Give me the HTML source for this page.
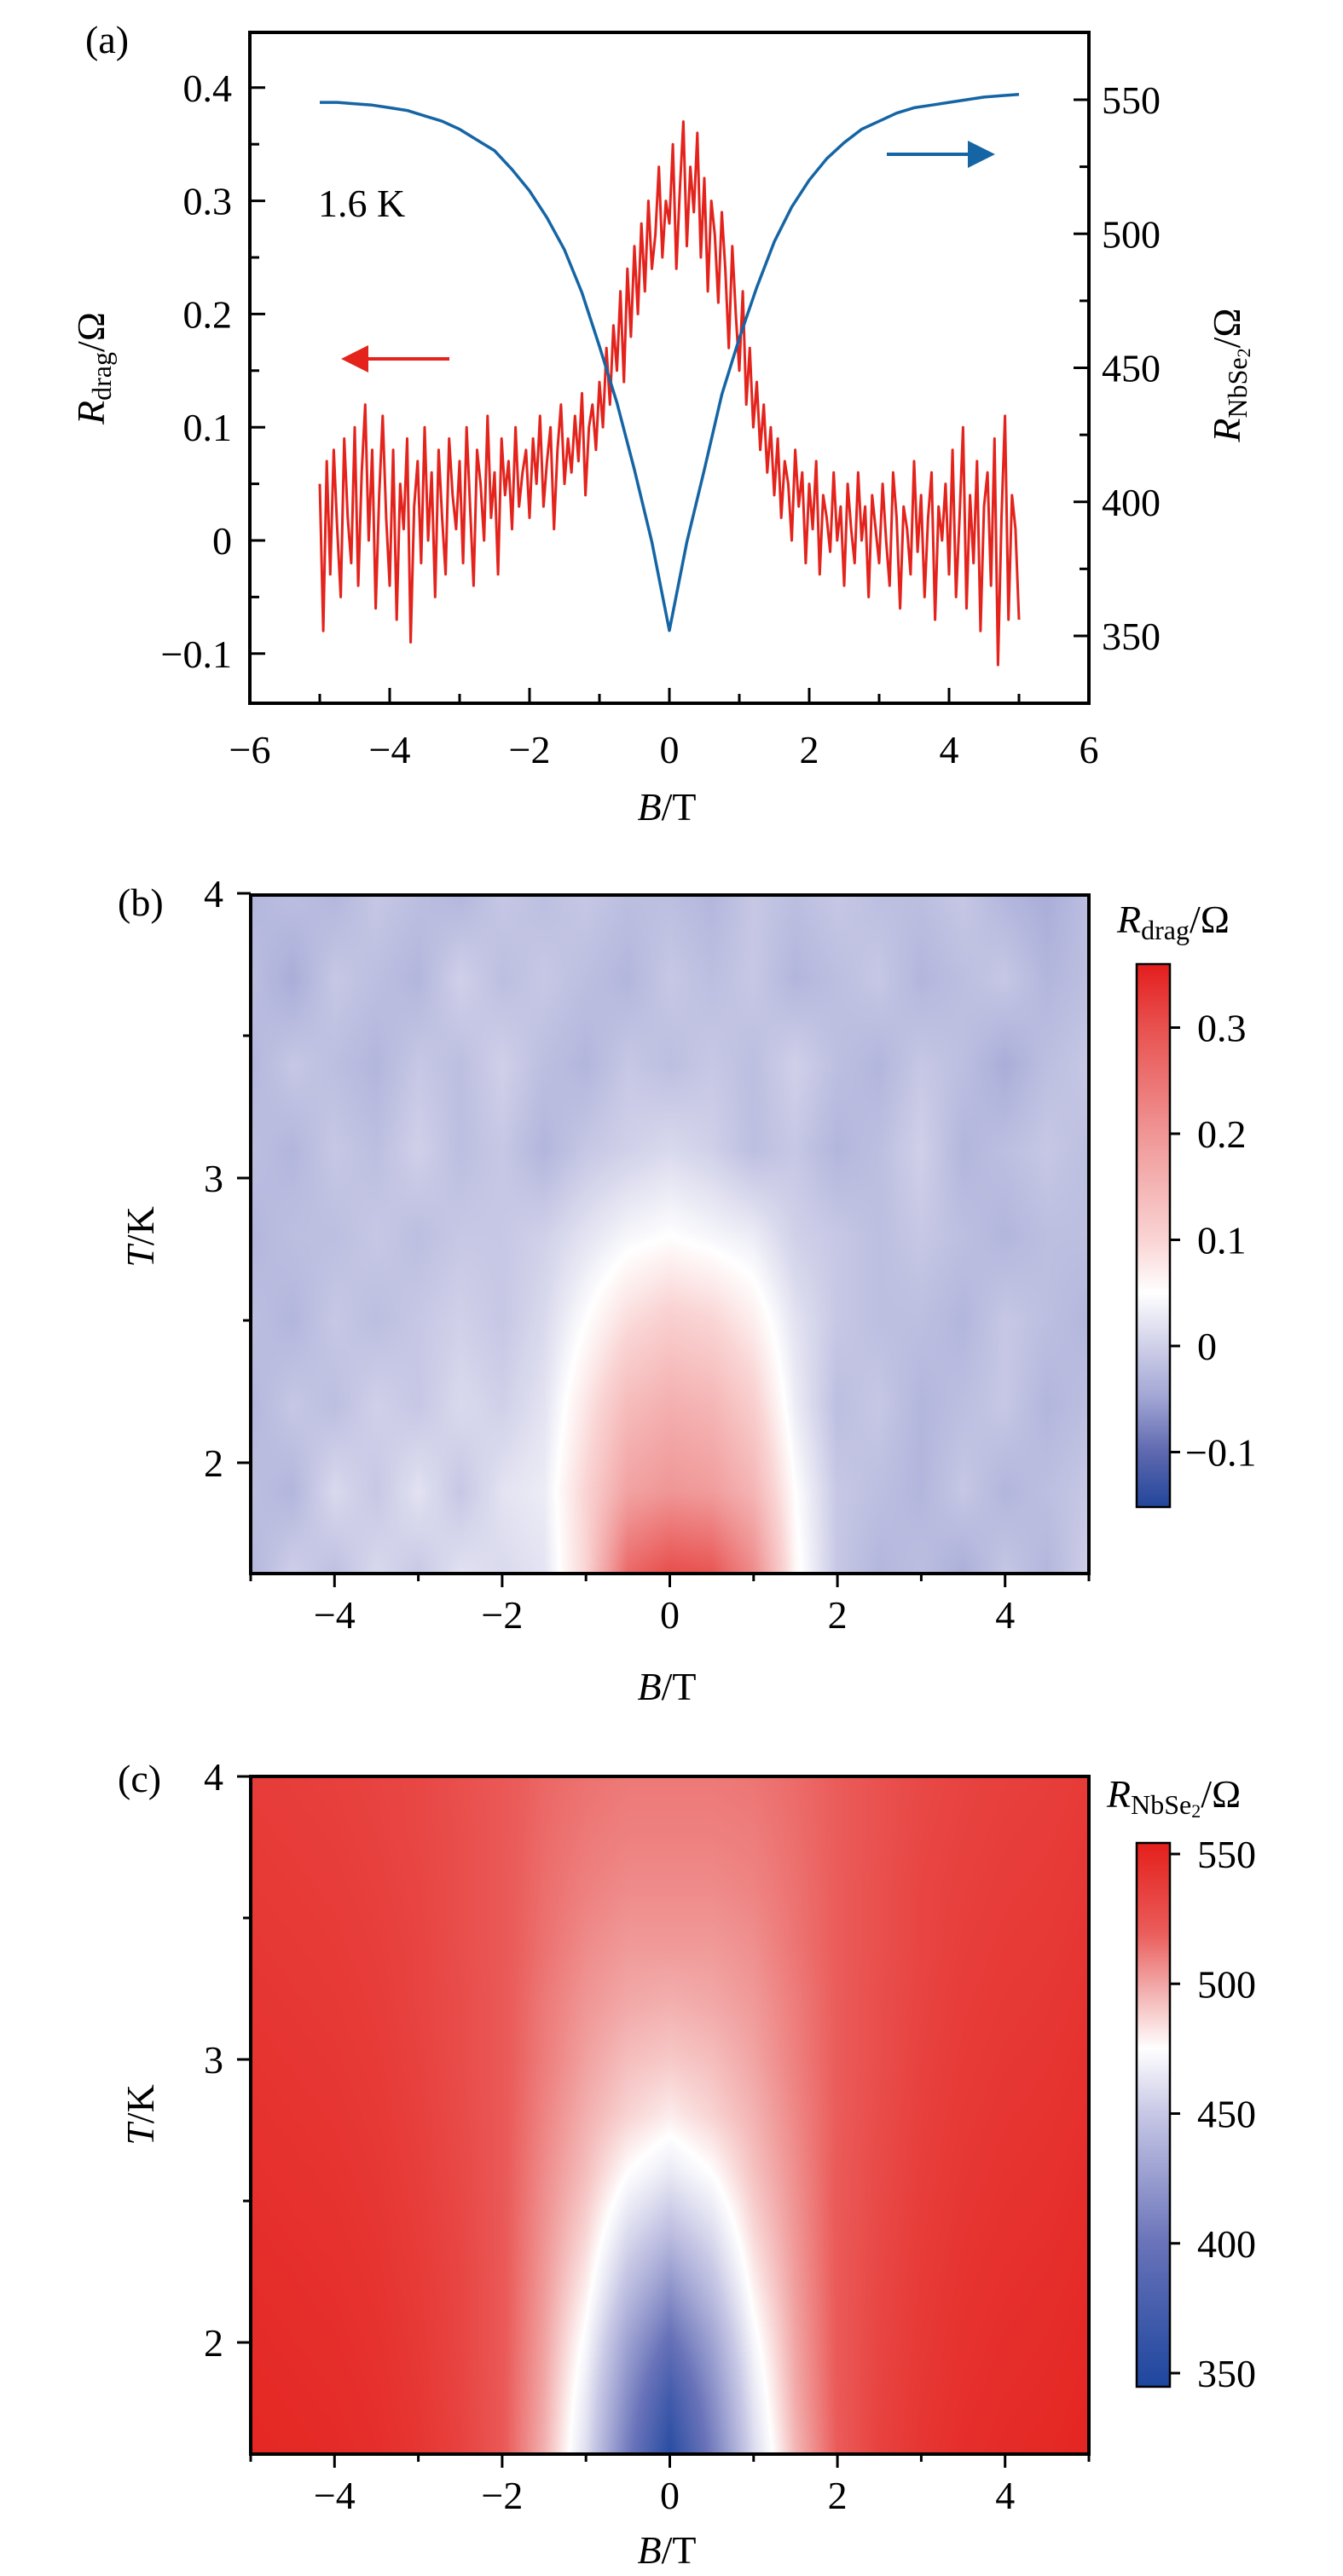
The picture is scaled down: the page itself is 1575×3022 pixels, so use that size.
<!DOCTYPE html>
<html><head><meta charset="utf-8">
<style>
html,body{margin:0;padding:0;background:#fff;}
#root{position:relative;width:1575px;height:3022px;overflow:hidden;background:#fff;}
canvas{position:absolute;}
svg{position:absolute;left:0;top:0;}
text{font-family:"Liberation Serif",serif;fill:#000;}
</style></head>
<body>
<div id="root">
<canvas id="hb" width="983" height="796" style="left:294px;top:1050px"></canvas>
<canvas id="cbb" width="39" height="637" style="left:1333px;top:1131px"></canvas>
<canvas id="hc" width="983" height="795" style="left:294px;top:2084px"></canvas>
<canvas id="cbc" width="39" height="638" style="left:1333px;top:2162px"></canvas>
<svg id="s" width="1575" height="3022" xmlns="http://www.w3.org/2000/svg">
<g font-size="46">
<text x="100" y="62">(a)</text>
<text x="138" y="1074">(b)</text>
<text x="138" y="2102">(c)</text>
<text x="373" y="254">1.6 K</text>
<text x="782" y="962" text-anchor="middle"><tspan font-style="italic">B</tspan>/T</text>
<text x="782" y="1994" text-anchor="middle"><tspan font-style="italic">B</tspan>/T</text>
<text x="782" y="3007" text-anchor="middle"><tspan font-style="italic">B</tspan>/T</text>
<text transform="translate(122,432) rotate(-90)" text-anchor="middle"><tspan font-style="italic">R</tspan><tspan font-size="32" dy="8">drag</tspan><tspan dy="-8">/Ω</tspan></text>
<text transform="translate(1454,440) rotate(-90)" text-anchor="middle"><tspan font-style="italic">R</tspan><tspan font-size="32" dy="8">NbSe</tspan><tspan font-size="22" dy="4">2</tspan><tspan dy="-12">/Ω</tspan></text>
<text transform="translate(180,1451) rotate(-90)" text-anchor="middle"><tspan font-style="italic">T</tspan>/K</text>
<text transform="translate(180,2481) rotate(-90)" text-anchor="middle"><tspan font-style="italic">T</tspan>/K</text>
<text x="1310" y="1094"><tspan font-style="italic">R</tspan><tspan font-size="32" dy="8">drag</tspan><tspan dy="-8">/Ω</tspan></text>
<text x="1298" y="2120"><tspan font-style="italic">R</tspan><tspan font-size="32" dy="8">NbSe</tspan><tspan font-size="22" dy="4">2</tspan><tspan dy="-12">/Ω</tspan></text>
</g>
<g id="gA"></g><g id="gB"></g><g id="gC"></g>
<line x1="1040" y1="181" x2="1140" y2="181" stroke="#1565a5" stroke-width="4"/>
<polygon points="1135,165 1167,181 1135,197" fill="#1565a5"/>
<line x1="428" y1="421" x2="527" y2="421" stroke="#e3231c" stroke-width="4"/>
<polygon points="432,405 400,421 432,437" fill="#e3231c"/>
</svg>
</div>
<script>
// ---------- Panel (a) data ----------
const redB0 = -5, redStep = 0.05;
const rdragValues = [
0.05,-0.08,0.07,-0.03,0.08,0.01,-0.05,0.09,0.02,-0.02,0.10,-0.04,0.06,0.12,0.00,0.08,-0.06,0.04,0.11,0.02,
-0.04,0.08,-0.07,0.05,0.01,0.09,-0.09,0.03,0.07,-0.02,0.10,0.00,0.06,-0.05,0.08,0.02,-0.03,0.09,0.04,0.01,
0.07,-0.02,0.10,0.03,-0.04,0.08,0.05,0.00,0.11,0.02,0.06,-0.03,0.09,0.04,0.07,0.01,0.10,0.03,0.06,0.08,
0.02,0.09,0.05,0.11,0.03,0.07,0.10,0.01,0.08,0.12,0.05,0.09,0.06,0.11,0.07,0.13,0.04,0.10,0.12,0.08,
0.14,0.10,0.17,0.12,0.19,0.15,0.22,0.14,0.24,0.18,0.26,0.20,0.28,0.22,0.30,0.24,0.27,0.33,0.25,0.30,
0.28,0.35,0.24,0.31,0.37,0.26,0.33,0.29,0.36,0.25,0.32,0.22,0.30,0.27,0.21,0.29,0.24,0.17,0.26,0.20,
0.15,0.22,0.12,0.17,0.10,0.14,0.08,0.12,0.06,0.10,0.04,0.09,0.02,0.07,0.05,0.00,0.08,0.03,0.06,-0.02,
0.05,0.01,0.07,-0.03,0.04,0.02,-0.01,0.06,0.00,0.03,-0.04,0.05,0.01,-0.02,0.06,0.00,0.03,-0.05,0.04,0.01,
-0.02,0.05,0.00,-0.04,0.06,0.02,-0.06,0.03,0.01,-0.03,0.07,-0.01,0.04,-0.05,0.02,0.06,-0.07,0.03,0.00,0.05,
-0.03,0.08,-0.05,0.02,0.10,-0.06,0.04,-0.02,0.07,-0.08,0.03,0.06,-0.04,0.09,-0.11,0.02,0.11,-0.07,0.04,0.01,
-0.07];
const blueB = [-5,-4.75,-4.5,-4.25,-4,-3.75,-3.5,-3.25,-3,-2.75,-2.5,-2.25,-2,-1.75,-1.5,-1.25,-1,-0.75,-0.5,-0.25,0,0.25,0.5,0.75,1,1.25,1.5,1.75,2,2.25,2.5,2.75,3,3.25,3.5,3.75,4,4.25,4.5,4.75,5];
const rnbse2Values = [549,549,548.5,548,547,546,544,542,539,535,531,524,516,506,494,478,458,437,412,385,352,385,412,440,461,480,497,510,520,528,534,539,542,545,547,548,549,550,551,551.5,552];
const xTicksA = [-6,-4,-2,0,2,4,6];
const yTicksLeftA = [-0.1,0,0.1,0.2,0.3,0.4];
const yTicksRightA = [350,400,450,500,550];

// ---------- Panel (b) data ----------
const gridB = [-5,-4.5,-4,-3.5,-3,-2.5,-2,-1.5,-1,-0.5,0,0.5,1,1.5,2,2.5,3,3.5,4,4.5,5];
const tRowsB = [1.6,1.9,2.2,2.5,2.8,3.1,3.4,3.7,4.0];
const dragGrid = [
[-0.03,0.00,-0.02,0.01,-0.01,0.02,0.01,0.02,0.10,0.27,0.31,0.30,0.22,0.06,-0.01,-0.03,-0.02,-0.04,-0.01,-0.03,0.00],
[-0.02,-0.03,0.01,-0.01,0.02,-0.01,0.02,0.03,0.10,0.18,0.20,0.19,0.15,0.05,-0.01,-0.02,-0.03,-0.01,-0.03,-0.02,-0.01],
[-0.03,-0.01,-0.02,0.00,-0.01,0.01,0.00,0.02,0.08,0.14,0.16,0.15,0.11,0.03,-0.02,-0.01,-0.03,-0.02,-0.01,-0.03,-0.02],
[-0.02,-0.03,-0.01,-0.02,-0.01,0.00,-0.01,0.01,0.05,0.09,0.11,0.10,0.07,0.02,-0.01,-0.02,-0.02,-0.03,-0.01,-0.02,-0.03],
[-0.03,-0.02,-0.02,-0.01,-0.02,-0.01,-0.01,0.00,0.02,0.04,0.05,0.04,0.03,0.00,-0.01,-0.02,-0.01,-0.02,-0.03,-0.02,-0.02],
[-0.02,-0.03,-0.01,-0.02,0.00,-0.02,-0.01,-0.03,-0.01,0.00,0.01,0.00,-0.02,-0.01,-0.03,-0.02,0.00,-0.03,-0.02,-0.01,-0.02],
[-0.03,-0.01,-0.02,-0.03,-0.01,-0.02,0.00,-0.02,-0.03,-0.01,-0.02,-0.01,-0.02,0.00,-0.02,-0.03,-0.01,-0.02,-0.04,-0.02,-0.01],
[-0.02,-0.04,-0.01,-0.02,-0.03,0.00,-0.02,-0.01,-0.02,-0.03,-0.01,-0.02,-0.01,-0.03,-0.02,-0.01,-0.03,-0.02,-0.01,-0.03,-0.02],
[-0.03,-0.02,-0.03,-0.01,-0.02,-0.03,-0.01,-0.02,-0.01,-0.02,-0.02,-0.03,-0.01,-0.02,-0.01,-0.02,-0.02,-0.01,-0.03,-0.04,-0.02]];
const cbTicksB = [-0.1,0,0.1,0.2,0.3];
const cbRangeB = [-0.152,0.36];

// ---------- Panel (c) data ----------
const tRowsC = [1.6,1.8,2.0,2.2,2.4,2.6,2.8,3.0,3.2,3.4,3.6,3.8,4.0];
const nbGrid = [
[550,549,548,546,542,535,522,497,460,405,352,405,458,495,520,535,542,546,548,549,551],
[549,548,547,545,541,534,522,499,465,415,370,415,464,498,521,534,541,545,547,548,550],
[548,547,546,544,540,533,522,501,472,428,395,428,471,500,521,533,540,544,546,547,549],
[547,546,545,543,539,533,522,503,480,445,420,445,479,502,521,532,539,543,545,546,548],
[546,545,544,542,538,532,522,505,487,460,445,460,486,504,521,531,538,542,544,545,547],
[545,544,543,541,537,531,522,507,493,475,465,475,492,506,521,530,537,541,543,544,546],
[544,543,542,540,536,530,522,509,497,487,480,487,496,508,520,529,536,540,542,543,545],
[543,542,541,539,535,529,522,511,501,493,490,493,500,510,520,528,535,539,541,542,544],
[542,541,540,538,534,529,522,512,504,499,497,499,503,511,520,528,534,538,540,541,543],
[541,540,539,537,534,528,522,514,507,503,503,503,506,513,520,527,533,537,539,540,542],
[540,539,538,536,533,528,522,515,510,507,507,507,509,514,520,527,533,536,538,539,541],
[539,538,537,535,532,528,522,516,512,510,510,510,511,515,520,526,532,535,537,538,540],
[538,537,536,534,532,527,522,517,514,512,512,512,513,516,520,526,531,534,536,537,539]];
const cbTicksC = [350,400,450,500,550];
const cbRangeC = [344.7,554];
const xTicksBC = [-4,-2,0,2,4];
const yTicksBC = [2,3,4];

const NS = "http://www.w3.org/2000/svg";
function mk(parent, tag, attrs){const e=document.createElementNS(NS,tag);for(const k in attrs)e.setAttribute(k,attrs[k]);parent.appendChild(e);return e;}
function fmt(v){const s=(Math.abs(v)<1e-9)?"0":String(Math.round(v*100)/100);return s.replace("-","−");}

const xA = b => 293 + (b + 6) * 82;
const yAL = v => 634 - v * 1328;
const yAR = r => 117 + (550 - r) * 3.145;
const xBC = b => 294 + (b + 5) * 98.3;
const yB = t => 1716 - (t - 2) * 334;
const yC = t => 2748 - (t - 2) * 332;
const yCbB = v => 1579 - v * 1245;
const yCbC = r => 2784 - (r - 350) * 3.045;

// ---- Panel A ----
const gA = document.getElementById('gA');
let d = "";
rdragValues.forEach((v,i)=>{const b=redB0+i*redStep;d+=(i?"L":"M")+xA(b).toFixed(1)+","+yAL(v).toFixed(1);});
let rl = mk(gA,'path',{d:d,fill:'none',stroke:'#e3231c','stroke-width':3,'stroke-linejoin':'round'});


d="";
blueB.forEach((b,i)=>{d+=(i?"L":"M")+xA(b).toFixed(1)+","+yAR(rnbse2Values[i]).toFixed(1);});
let bl = mk(gA,'path',{d:d,fill:'none',stroke:'#1565a5','stroke-width':3.5,'stroke-linejoin':'round'});


let fr = mk(gA,'rect',{x:293,y:38,width:984,height:787,fill:'none',stroke:'#000','stroke-width':4});


for(let b=-5;b<=5;b++){
  const major = b%2===0;
  let t=mk(gA,'line',{x1:xA(b),x2:xA(b),y1:825,y2:825-(major?18:11),stroke:'#000','stroke-width':3});
  
  
}
xTicksA.forEach(b=>{
  let t=mk(gA,'text',{x:xA(b),y:895,'text-anchor':'middle','font-size':46});t.textContent=fmt(b);
  
  
});
for(let k=-2;k<=8;k++){const v=k*0.05;
  let t=mk(gA,'line',{x1:293,x2:293+(k%2===0?18:11),y1:yAL(v),y2:yAL(v),stroke:'#000','stroke-width':3});
  
  
}
yTicksLeftA.forEach(v=>{
  let t=mk(gA,'text',{x:272,y:yAL(v)+16,'text-anchor':'end','font-size':46});t.textContent=fmt(v);
  
  
});
for(let r=325;r<=575;r+=25){
  let t=mk(gA,'line',{x1:1277,x2:1277-(r%50===0?18:11),y1:yAR(r),y2:yAR(r),stroke:'#000','stroke-width':3});
  
  
}
yTicksRightA.forEach(r=>{
  let t=mk(gA,'text',{x:1292,y:yAR(r)+16,'font-size':46});t.textContent=fmt(r);
  
  
});

// ---- color maps ----
function lerpStops(stops,v){
  if(v<=stops[0][0])return stops[0][1];
  for(let i=1;i<stops.length;i++){if(v<=stops[i][0]){const a=stops[i-1],b=stops[i];const t=(v-a[0])/(b[0]-a[0]);return [0,1,2].map(k=>a[1][k]+(b[1][k]-a[1][k])*t);}}
  return stops[stops.length-1][1];
}
const stopsB=[[-0.152,[35,70,155]],[-0.1,[95,105,175]],[-0.05,[160,165,212]],[0,[208,208,233]],[0.05,[255,255,255]],[0.1,[250,212,212]],[0.2,[240,150,150]],[0.3,[232,82,80]],[0.36,[228,30,30]]];
const stopsC=[[344.7,[30,70,158]],[400,[105,115,185]],[450,[200,200,230]],[475,[255,255,255]],[500,[241,165,164]],[520,[234,92,90]],[554,[228,32,28]]];

function interpGrid(grid, xs, ys, x, y){
  let i=0;while(i<xs.length-2&&x>xs[i+1])i++;
  let j=0;while(j<ys.length-2&&y>ys[j+1])j++;
  const tx=Math.min(1,Math.max(0,(x-xs[i])/(xs[i+1]-xs[i])));
  const ty=Math.min(1,Math.max(0,(y-ys[j])/(ys[j+1]-ys[j])));
  const a=grid[j][i],b=grid[j][i+1],c=grid[j+1][i],e=grid[j+1][i+1];
  return (a*(1-tx)+b*tx)*(1-ty)+(c*(1-tx)+e*tx)*ty;
}
function drawHeat(id, grid, ts, yfun, top, stops){
  const cv=document.getElementById(id),ctx=cv.getContext('2d');
  const W=cv.width,H=cv.height,img=ctx.createImageData(W,H);
  const tOf = py => { let lo=1.5,hi=4.1; for(let k=0;k<30;k++){const m=(lo+hi)/2; if(yfun(m)>top+py)lo=m; else hi=m;} return (lo+hi)/2; };
  for(let py=0;py<H;py++){const t=tOf(py);
    for(let px=0;px<W;px++){const b=(px+0.5)/98.3-5;
      const c=lerpStops(stops,interpGrid(grid,gridB,ts,b,t));const o=(py*W+px)*4;
      img.data[o]=c[0];img.data[o+1]=c[1];img.data[o+2]=c[2];img.data[o+3]=255;}}
  ctx.putImageData(img,0,0);
}
drawHeat('hb',dragGrid,tRowsB,yB,1050,stopsB);
drawHeat('hc',nbGrid,tRowsC,yC,2084,stopsC);
function drawBar(id,range,stops){
  const cv=document.getElementById(id),ctx=cv.getContext('2d');
  for(let py=0;py<cv.height;py++){const v=range[1]-(range[1]-range[0])*py/(cv.height-1);
    const c=lerpStops(stops,v);ctx.fillStyle='rgb('+c.map(Math.round).join(',')+')';ctx.fillRect(0,py,cv.width,1);}
}
drawBar('cbb',cbRangeB,stopsB);
drawBar('cbc',cbRangeC,stopsC);

function axesBC(g, top, bottom, yfun, cbTop, cbBot, cbTicks, cbY, suffix){
  let f=mk(g,'rect',{x:294,y:top,width:983,height:bottom-top,fill:'none',stroke:'#000','stroke-width':4});
  
  
  for(let b=-5;b<=5;b++){
    let t=mk(g,'line',{x1:xBC(b),x2:xBC(b),y1:bottom,y2:bottom+(b%2===0?16:9),stroke:'#000','stroke-width':3});
    
    
  }
  xTicksBC.forEach(b=>{
    let t=mk(g,'text',{x:xBC(b),y:bottom+64,'text-anchor':'middle','font-size':46});t.textContent=fmt(b);
    
    
  });
  [2,2.5,3,3.5,4].forEach(v=>{
    let t=mk(g,'line',{x1:294,x2:294-(v%1===0?16:9),y1:yfun(v),y2:yfun(v),stroke:'#000','stroke-width':3});
    
    
  });
  yTicksBC.forEach(v=>{
    let t=mk(g,'text',{x:262,y:yfun(v)+16,'text-anchor':'end','font-size':46});t.textContent=fmt(v);
    
    
  });
  let cb=mk(g,'rect',{x:1333,y:cbTop,width:39,height:cbBot-cbTop,fill:'none',stroke:'#000','stroke-width':2.5});
  
  
  cbTicks.forEach(v=>{
    let t=mk(g,'line',{x1:1372,x2:1384,y1:cbY(v),y2:cbY(v),stroke:'#000','stroke-width':3});
    
    
    let l=mk(g,'text',{x:(v<0?1390:1404),y:cbY(v)+16,'font-size':46});l.textContent=fmt(v);
    
    
  });
}
axesBC(document.getElementById('gB'),1050,1846,yB,1131,1768,cbTicksB,yCbB,'b');
axesBC(document.getElementById('gC'),2084,2879,yC,2162,2800,cbTicksC,yCbC,'c');
</script>
</body></html>
